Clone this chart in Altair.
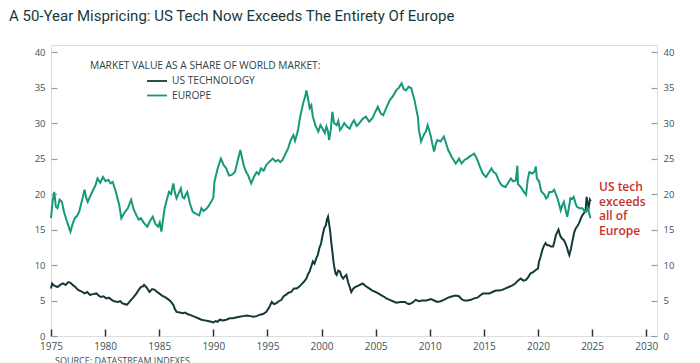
import altair as alt
import pandas as pd

# ---------------- data ----------------
eu_years = [1975.0, 1975.15, 1975.3, 1975.45, 1975.6, 1975.8, 1976.0, 1976.2, 1976.5, 1976.8,
            1977.0, 1977.2, 1977.4, 1977.6, 1977.85, 1978.1, 1978.25, 1978.4, 1978.65, 1978.9,
            1979.1, 1979.3, 1979.55, 1979.8, 1980.05, 1980.3, 1980.5, 1980.7, 1981.0, 1981.3,
            1981.5, 1981.8, 1982.1, 1982.4, 1982.65, 1982.9, 1983.1, 1983.3, 1983.6, 1983.9,
            1984.15, 1984.4, 1984.65, 1984.9, 1985.05, 1985.2, 1985.5, 1985.7, 1985.9, 1986.1,
            1986.3, 1986.45, 1986.6, 1986.8, 1987.0, 1987.15, 1987.3, 1987.45, 1987.6, 1987.85,
            1988.1, 1988.4, 1988.7, 1988.9, 1989.1, 1989.4, 1989.6, 1989.8, 1990.0, 1990.1,
            1990.4, 1990.7, 1990.95, 1991.2, 1991.45, 1991.7, 1992.0, 1992.3, 1992.5, 1992.8,
            1993.0, 1993.2, 1993.5, 1993.75, 1994.0, 1994.2, 1994.4, 1994.65, 1994.9, 1995.2,
            1995.5, 1995.75, 1996.0, 1996.2, 1996.4, 1996.65, 1996.9, 1997.15, 1997.4, 1997.55,
            1997.7, 1997.85, 1998.0, 1998.3, 1998.5, 1998.6, 1998.75, 1998.9, 1999.05, 1999.2,
            1999.45, 1999.7, 1999.9, 2000.1, 2000.3, 2000.45, 2000.6, 2000.7, 2000.85, 2001.0,
            2001.15, 2001.4, 2001.55, 2001.7, 2001.9, 2002.1, 2002.35, 2002.6, 2002.8, 2003.0,
            2003.25, 2003.5, 2003.8, 2004.1, 2004.4, 2004.7, 2004.95, 2005.2, 2005.45, 2005.7,
            2006.0, 2006.3, 2006.6, 2006.9, 2007.15, 2007.4, 2007.6, 2007.8, 2008.05, 2008.3,
            2008.45, 2008.6, 2008.75, 2008.9, 2009.0, 2009.2, 2009.35, 2009.5, 2009.65, 2009.8,
            2009.95, 2010.1, 2010.25, 2010.4, 2010.55, 2010.7, 2011.0, 2011.3, 2011.5, 2011.7,
            2011.85, 2012.0, 2012.2, 2012.4, 2012.55, 2012.7, 2012.95, 2013.2, 2013.45, 2013.7,
            2013.9, 2014.1, 2014.25, 2014.4, 2014.65, 2014.9, 2015.05, 2015.2, 2015.45, 2015.7,
            2015.9, 2016.1, 2016.35, 2016.6, 2016.8, 2017.0, 2017.25, 2017.5, 2017.7, 2017.95,
            2018.1, 2018.15, 2018.4, 2018.7, 2018.9, 2019.05, 2019.2, 2019.5, 2019.7, 2019.8,
            2019.9, 2020.1, 2020.3, 2020.6, 2020.75, 2020.9, 2021.05, 2021.3, 2021.5, 2021.65,
            2021.8, 2021.95, 2022.1, 2022.25, 2022.4, 2022.55, 2022.7, 2022.85, 2023.0, 2023.15,
            2023.3, 2023.45, 2023.6, 2023.85, 2024.1, 2024.3, 2024.45, 2024.6, 2024.75, 2024.85]
eu_values = [16.6, 19.0, 20.3, 18.2, 18.0, 19.2, 18.9, 17.5, 16.0, 14.7,
             15.8, 16.6, 16.9, 17.5, 19.0, 20.6, 19.5, 18.9, 19.8, 20.6,
             21.2, 22.2, 21.6, 22.4, 21.8, 22.0, 21.5, 21.7, 20.3, 18.5,
             16.6, 17.4, 18.0, 19.2, 17.8, 17.0, 16.4, 16.6, 15.9, 15.4,
             16.2, 16.8, 15.8, 15.4, 16.0, 14.7, 18.0, 19.2, 20.3, 20.0,
             21.5, 20.2, 19.4, 20.1, 20.8, 19.6, 19.4, 19.9, 20.3, 18.6,
             17.5, 17.2, 17.0, 18.0, 17.6, 18.0, 18.4, 18.9, 19.5, 21.7,
             23.6, 25.0, 24.1, 23.6, 22.6, 22.7, 23.1, 25.0, 26.2, 24.1,
             23.2, 22.7, 21.5, 22.4, 23.1, 22.8, 23.6, 23.3, 24.1, 24.6,
             25.0, 24.6, 24.8, 24.5, 24.8, 25.6, 26.4, 27.6, 28.3, 27.5,
             28.3, 29.2, 30.7, 32.8, 33.8, 34.6, 33.5, 32.1, 32.5, 30.9,
             29.6, 28.8, 29.7, 29.2, 28.6, 29.5, 28.8, 27.6, 29.0, 31.6,
             30.0, 29.7, 30.3, 29.0, 29.4, 30.0, 29.5, 29.2, 29.9, 30.4,
             29.6, 30.0, 30.6, 30.9, 30.2, 30.7, 31.5, 32.3, 31.4, 31.1,
             32.2, 33.2, 33.8, 34.6, 35.0, 35.6, 34.8, 34.6, 35.1, 34.9,
             34.0, 33.2, 32.0, 30.9, 29.0, 27.4, 28.0, 28.5, 28.8, 29.7,
             29.0, 28.1, 27.0, 26.0, 27.0, 27.6, 27.4, 28.1, 27.2, 26.2,
             25.8, 25.3, 24.8, 24.3, 24.6, 25.0, 24.3, 24.8, 25.0, 25.3,
             25.5, 25.7, 25.3, 24.8, 23.8, 22.9, 22.6, 22.4, 23.0, 23.6,
             23.1, 22.9, 22.0, 21.3, 21.1, 21.0, 21.6, 22.2, 21.8, 21.9,
             24.0, 21.4, 21.0, 20.3, 19.9, 22.0, 23.1, 22.9, 23.2, 23.9,
             22.2, 21.8, 20.4, 19.9, 19.4, 19.6, 20.3, 20.3, 20.6, 20.0,
             19.4, 18.6, 17.7, 18.4, 18.9, 17.8, 16.8, 18.0, 19.4, 19.3,
             19.6, 18.8, 18.2, 18.0, 18.0, 17.6, 17.5, 18.0, 17.2, 16.6]

us_years = [1975.0, 1975.1, 1975.3, 1975.6, 1975.85, 1976.1, 1976.35, 1976.6, 1976.8, 1977.0,
            1977.25, 1977.5, 1977.8, 1978.1, 1978.35, 1978.6, 1978.9, 1979.2, 1979.4, 1979.6,
            1979.85, 1980.1, 1980.35, 1980.6, 1980.85, 1981.2, 1981.4, 1981.6, 1981.8, 1982.0,
            1982.2, 1982.4, 1982.65, 1982.9, 1983.1, 1983.3, 1983.5, 1983.6, 1983.85, 1984.1,
            1984.35, 1984.6, 1984.8, 1985.0, 1985.25, 1985.5, 1985.7, 1985.9, 1986.1, 1986.3,
            1986.45, 1986.6, 1986.9, 1987.2, 1987.4, 1987.6, 1987.95, 1988.3, 1988.6, 1988.9,
            1989.2, 1989.5, 1989.8, 1990.0, 1990.2, 1990.4, 1990.6, 1990.9, 1991.2, 1991.5,
            1991.8, 1992.1, 1992.4, 1992.75, 1993.1, 1993.4, 1993.7, 1994.0, 1994.3, 1994.6,
            1994.9, 1995.15, 1995.4, 1995.6, 1995.8, 1996.05, 1996.3, 1996.5, 1996.7, 1996.95,
            1997.2, 1997.45, 1997.7, 1997.9, 1998.1, 1998.35, 1998.6, 1998.75, 1998.9, 1999.05,
            1999.2, 1999.35, 1999.5, 1999.65, 1999.8, 1999.95, 2000.1, 2000.25, 2000.4, 2000.5,
            2000.6, 2000.7, 2000.8, 2000.9, 2001.0, 2001.1, 2001.2, 2001.3, 2001.4, 2001.55,
            2001.7, 2001.85, 2002.0, 2002.15, 2002.3, 2002.45, 2002.6, 2002.75, 2002.9, 2003.1,
            2003.4, 2003.8, 2004.1, 2004.4, 2004.7, 2005.0, 2005.35, 2005.7, 2006.0, 2006.3,
            2006.6, 2006.9, 2007.3, 2007.7, 2007.9, 2008.1, 2008.4, 2008.7, 2009.0, 2009.3,
            2009.7, 2010.1, 2010.4, 2010.7, 2011.0, 2011.3, 2011.7, 2012.1, 2012.4, 2012.7,
            2012.95, 2013.2, 2013.5, 2013.8, 2014.1, 2014.4, 2014.65, 2014.9, 2015.2, 2015.5,
            2015.8, 2016.1, 2016.4, 2016.7, 2017.0, 2017.3, 2017.6, 2017.9, 2018.15, 2018.4,
            2018.65, 2018.9, 2019.1, 2019.3, 2019.55, 2019.8, 2020.0, 2020.1, 2020.25, 2020.4,
            2020.55, 2020.7, 2020.85, 2021.0, 2021.2, 2021.4, 2021.55, 2021.65, 2021.8, 2021.9,
            2022.0, 2022.1, 2022.25, 2022.4, 2022.55, 2022.7, 2022.8, 2022.9, 2023.05, 2023.2,
            2023.35, 2023.5, 2023.65, 2023.8, 2023.95, 2024.1, 2024.25, 2024.4, 2024.5, 2024.6,
            2024.7, 2024.8, 2024.88]
us_values = [6.7, 7.4, 7.1, 6.9, 7.2, 7.4, 7.2, 7.6, 7.5, 7.2,
             6.9, 6.5, 6.3, 6.0, 6.2, 5.8, 5.9, 6.0, 5.7, 5.5,
             5.6, 5.3, 5.4, 5.1, 4.9, 4.8, 4.9, 4.6, 4.5, 4.4,
             4.7, 5.1, 5.5, 6.0, 6.5, 6.9, 7.0, 7.2, 6.8, 6.2,
             6.6, 6.5, 6.2, 6.0, 5.7, 5.5, 5.3, 5.1, 4.8, 4.4,
             3.8, 3.4, 3.3, 3.2, 3.3, 3.1, 2.9, 2.7, 2.5, 2.3,
             2.2, 2.1, 2.0, 1.9, 2.1, 2.0, 2.3, 2.2, 2.3, 2.5,
             2.5, 2.6, 2.7, 2.8, 2.9, 2.8, 2.7, 2.8, 3.0, 3.1,
             3.4, 4.0, 4.8, 4.5, 4.6, 4.9, 5.1, 5.6, 5.8, 6.1,
             6.2, 6.7, 6.7, 6.9, 7.2, 7.6, 8.1, 8.7, 9.1, 9.8,
             10.5, 10.2, 10.9, 11.4, 12.4, 13.0, 14.2, 15.2, 15.6, 16.4,
             16.8, 15.8, 14.7, 13.2, 11.9, 10.5, 9.5, 8.8, 8.6, 9.2,
             9.1, 8.4, 8.1, 8.4, 8.6, 7.6, 6.9, 6.2, 6.6, 6.9,
             7.1, 7.4, 7.0, 6.7, 6.4, 6.2, 5.9, 5.6, 5.3, 5.1,
             4.9, 4.7, 4.8, 4.8, 4.6, 4.5, 4.7, 5.1, 4.9, 5.0,
             5.0, 5.2, 5.0, 4.8, 4.9, 5.1, 5.4, 5.6, 5.7, 5.6,
             5.2, 5.0, 5.0, 5.1, 5.3, 5.4, 5.7, 6.0, 6.0, 6.0,
             6.2, 6.4, 6.4, 6.5, 6.7, 6.9, 7.1, 7.4, 7.8, 8.1,
             7.8, 7.9, 8.3, 8.8, 9.0, 9.3, 9.5, 10.5, 11.2, 12.1,
             12.7, 13.1, 12.8, 12.8, 12.6, 12.6, 13.5, 14.2, 14.7, 15.0,
             14.4, 14.0, 13.7, 13.5, 13.0, 12.4, 11.8, 11.4, 12.3, 13.5,
             14.6, 15.2, 15.5, 15.9, 16.5, 17.0, 17.3, 17.7, 19.6, 18.6,
             18.2, 19.2, 19.0]

series_names = ["US TECHNOLOGY", "EUROPE"]
series_colors = ["#123a3b", "#15997a"]
x_ticks = [1975, 1980, 1985, 1990, 1995, 2000, 2005, 2010, 2015, 2020, 2025, 2030]
y_ticks = [0, 5, 10, 15, 20, 25, 30, 35, 40]

title_text = "A 50-Year Mispricing: US Tech Now Exceeds The Entirety Of Europe"
legend_header = "MARKET VALUE AS A SHARE OF WORLD MARKET:"
annotation_lines = ["US tech", "exceeds", "all of", "Europe"]
source_text = "SOURCE: DATASTREAM INDEXES"

# ---------------- build ----------------
W, H = 606, 291
df = pd.concat([
    pd.DataFrame({"year": us_years, "value": us_values, "series": series_names[0]}),
    pd.DataFrame({"year": eu_years, "value": eu_values, "series": series_names[1]}),
])

AXIS_COL = "#3b5256"
FRAME_COL = "#8fa1a4"
TEXT_COL = "#2c4448"
xscale = alt.Scale(domain=[1975, 2031], nice=False, zero=False)
yscale = alt.Scale(domain=[0, 41], nice=False)

base_x = alt.X("year:Q", scale=xscale, title=None,
               axis=alt.Axis(values=x_ticks, format="d", grid=False, domain=False,
                             offset=-7, tickSize=7, tickWidth=1.5, tickColor="#1f3d40",
                             labelPadding=5, labelFont="Open Sans", labelFontSize=10,
                             labelColor=AXIS_COL, labelFlush=False))

lines_left = alt.Chart(df).mark_line(strokeWidth=2, interpolate="linear").encode(
    x=base_x,
    y=alt.Y("value:Q", scale=yscale, title=None,
            axis=alt.Axis(orient="left", values=y_ticks, grid=False, domain=False,
                          offset=-6, tickSize=6, tickColor=FRAME_COL, tickWidth=1.2,
                          labelPadding=6, labelFont="Open Sans", labelFontSize=9.5,
                          labelColor=AXIS_COL)),
    color=alt.Color("series:N", scale=alt.Scale(domain=series_names, range=series_colors),
                    legend=None),
    detail="series:N",
)

right_axis = alt.Chart(pd.DataFrame({"v": [0]})).mark_point(opacity=0).encode(
    y=alt.Y("v:Q", scale=yscale, title=None,
            axis=alt.Axis(orient="right", values=y_ticks, grid=False, domain=False,
                          offset=-6, tickSize=6, tickColor=FRAME_COL, tickWidth=1.2,
                          labelPadding=6, labelFont="Open Sans", labelFontSize=9.5,
                          labelColor=AXIS_COL)),
)

one = pd.DataFrame({"a": [0]})
layers = [lines_left, right_axis]

layers.append(alt.Chart(one).mark_text(align="left", baseline="middle", font="Open Sans",
                                       fontSize=10.2, color=TEXT_COL).encode(
    x=alt.value(39), y=alt.value(21), text=alt.value(legend_header)))
for i, (name, col) in enumerate(zip(series_names, series_colors)):
    yy = 36 + 14.5 * i
    layers.append(alt.Chart(one).mark_rule(color=col, strokeWidth=1.8).encode(
        x=alt.value(96), x2=alt.value(116), y=alt.value(yy)))
    layers.append(alt.Chart(one).mark_text(align="left", baseline="middle", font="Open Sans",
                                           fontSize=10.2, color=TEXT_COL).encode(
        x=alt.value(121), y=alt.value(yy), text=alt.value(name)))

for i, t in enumerate(annotation_lines):
    layers.append(alt.Chart(one).mark_text(align="left", baseline="middle", font="Open Sans",
                                           fontSize=12, fontWeight=600, color="#c8302e").encode(
        x=alt.value(548), y=alt.value(142 + 14.6 * i), text=alt.value(t)))

layers.append(alt.Chart(one).mark_text(align="left", baseline="middle", font="Open Sans",
                                       fontSize=9, color=AXIS_COL).encode(
    x=alt.value(4), y=alt.value(316), text=alt.value(source_text)))

chart = alt.layer(*layers).resolve_axis(y="independent").properties(
    width=W, height=H,
    title=alt.TitleParams(title_text, anchor="start", frame="group", dx=-42, offset=21,
                          font="Roboto", fontSize=15, fontWeight="normal",
                          color="#17393b"),
    padding={"left": 43, "top": 37, "right": 35, "bottom": 27},
    autosize=alt.AutoSizeParams(type="none"),
).configure_view(stroke=FRAME_COL, strokeWidth=1.3).configure(background="white")

chart.save("out.html", embed_options={"renderer": "svg", "actions": False})
